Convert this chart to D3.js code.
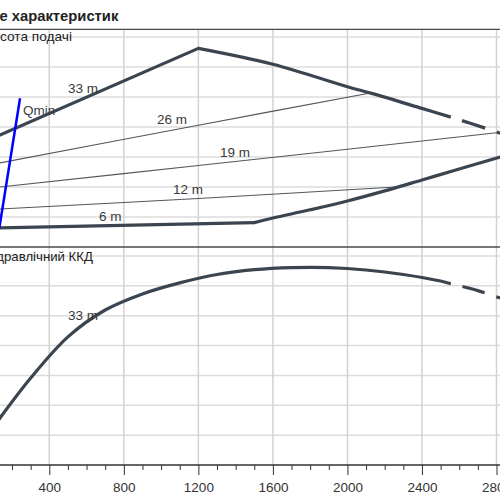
<!DOCTYPE html>
<html><head><meta charset="utf-8">
<script src="https://cdn.jsdelivr.net/npm/d3@7"></script>
<style>
body{margin:0;background:#fff;}
svg{display:block;font-family:"Liberation Sans",Arial,sans-serif;}
</style></head>
<body>
<div id="chart"></div>
<script>
// ---- data (flow Q in m³/h on x, head in m, efficiency in %) ----
const titleText = "е характеристик";
const headLabel = "Висота подачі";
const effLabel = "Гідравлічний ККД";
const xMajorTicks = [400, 800, 1200, 1600, 2000, 2400, 2800];
const xMinorTicks = [200, 300, 500, 600, 700, 900, 1000, 1100, 1300, 1400, 1500, 1700, 1800, 1900, 2100, 2200, 2300, 2500, 2600, 2700];
const headGrid = [5, 10, 15, 20, 25, 30, 35];
const effGrid = [10, 20, 30, 40, 50, 60, 70];

// upper envelope "33 m"
const env33Q = [100, 1200, 1600, 2000, 2130, 2400, 2560, 2740, 2820];
const env33H = [18.2, 33.1, 30.45, 26.7, 25.6, 23.1, 21.6, 19.8, 18.95];
// lower envelope "6 m" (flat part) + max-flow boundary (rising part)
const env6Q = [100, 1500, 1600, 1800, 2000, 2200, 2400, 2600, 2820];
const env6H = [3.18, 4.07, 4.83, 6.2, 7.67, 9.35, 11.17, 13.0, 15.0];
// thin curves
const c26Q = [100, 1200, 2130];
const c26H = [13.8, 20.3, 25.7];
const c19Q = [100, 1200, 2800];
const c19H = [9.88, 13.57, 19.05];
const c12Q = [100, 1200, 2282];
const c12H = [6.28, 8.08, 10.05];
// Qmin line
const qminQ = [243, 132];
const qminH = [24.8, 3.2];
// efficiency curve 33 m
const effQ = [100, 300, 500, 700, 900, 1100, 1300, 1500, 1700, 1900, 2100, 2300, 2500, 2700, 2820];
const effV = [12.7, 29.1, 42.9, 51.9, 57.3, 61.0, 63.8, 65.4, 66.1, 66.1, 65.3, 63.8, 61.6, 58.4, 55.9];
const dashFrom = 2555;

// labels
const headLabels = [
  {t:"33 m", q:500, h:25.67},
  {t:"26 m", q:978, h:20.5},
  {t:"19 m", q:1316, h:15.05},
  {t:"12 m", q:1064, h:8.83},
  {t:"6 m", q:667, h:4.33}
];
const qminLabel = {t:"Qmin", q:259, h:22.0};
const effLabelLine = {t:"33 m", q:500, v:48.6};

// ---- drawing ----
const W = 500, H = 500;
const svg = d3.select("#chart").append("svg").attr("width", W).attr("height", H);

const x = d3.scaleLinear().domain([400, 2800]).range([49.3, 496.5]);
const yH = d3.scaleLinear().domain([0, 36.28]).range([247, 29.3]);
const yE = d3.scaleLinear().domain([0, 73.1]).range([465, 246.7]);

const gridC = "#dcdcdc", vgridC = "#d2d2d2";
const thickC = "#3b4550", thinC = "#50575e";

// horizontal grids
svg.append("g").selectAll("line").data(headGrid).join("line")
  .attr("x1", 0).attr("x2", W).attr("y1", d => yH(d)).attr("y2", d => yH(d))
  .attr("stroke", gridC).attr("stroke-width", 1.5);
svg.append("g").selectAll("line").data(effGrid).join("line")
  .attr("x1", 0).attr("x2", W).attr("y1", d => yE(d)).attr("y2", d => yE(d))
  .attr("stroke", gridC).attr("stroke-width", 1.5);
// vertical grids
svg.append("g").selectAll("line").data(xMajorTicks).join("line")
  .attr("x1", d => x(d)).attr("x2", d => x(d)).attr("y1", yH(36.28)).attr("y2", yE(0))
  .attr("stroke", vgridC).attr("stroke-width", 1.5);

// border lines
[yH(36.28), yH(0)].forEach(yy => svg.append("line").attr("x1", 0).attr("x2", W)
  .attr("y1", yy).attr("y2", yy).attr("stroke", "#4a4a4a").attr("stroke-width", 1.3));

// x axis
const axisG = svg.append("g").attr("transform", `translate(0,${yE(0)})`);
axisG.append("line").attr("x1", 0).attr("x2", W).attr("stroke", "#333").attr("stroke-width", 1.3);
const minorAxis = d3.axisBottom(x).tickValues(xMinorTicks).tickSize(5).tickFormat("");
const majorAxis = d3.axisBottom(x).tickValues(xMajorTicks).tickSize(10).tickFormat(d3.format("d"));
const gMinor = axisG.append("g").call(minorAxis);
const gMajor = axisG.append("g").call(majorAxis);
[gMinor, gMajor].forEach(g => {
  g.select(".domain").remove();
  g.selectAll(".tick line").attr("stroke", "#333").attr("stroke-width", 1);
});
gMajor.selectAll(".tick text").attr("y", 17).attr("dy", "0.71em")
  .attr("font-size", 13.5).attr("fill", "#333").attr("font-family", '"Liberation Sans",Arial,sans-serif');

// line generators
const lineH = d3.line().x(d => x(d[0])).y(d => yH(d[1])).curve(d3.curveCatmullRom.alpha(0.5));
const lineHlin = d3.line().x(d => x(d[0])).y(d => yH(d[1]));
const lineE = d3.line().x(d => x(d[0])).y(d => yE(d[1])).curve(d3.curveCatmullRom.alpha(0.5));

function split(qs, vs) {
  const pts = qs.map((q, i) => [q, vs[i]]);
  const solid = pts.filter(p => p[0] <= dashFrom);
  const dashed = pts.filter(p => p[0] >= dashFrom);
  const i = qs.findIndex(q => q > dashFrom);
  if (i > 0 && qs[i-1] < dashFrom) {
    const t = (dashFrom - qs[i-1]) / (qs[i] - qs[i-1]);
    const j = [dashFrom, vs[i-1] + t * (vs[i] - vs[i-1])];
    solid.push(j); dashed.unshift(j);
  }
  return {solid, dashed};
}

// thin lines
[[c26Q, c26H], [c19Q, c19H], [c12Q, c12H]].forEach(([qs, hs]) => {
  svg.append("path").attr("d", lineH(qs.map((q, i) => [q, hs[i]])))
    .attr("fill", "none").attr("stroke", thinC).attr("stroke-width", 1.1);
});

// lower envelope: flat straight part, then curved boundary
const lowPts = env6Q.map((q, i) => [q, env6H[i]]);
svg.append("path").attr("d", lineHlin(lowPts.filter(p => p[0] <= 1500)))
  .attr("fill", "none").attr("stroke", thickC).attr("stroke-width", 3.2);
svg.append("path").attr("d", lineH(lowPts.filter(p => p[0] >= 1500)))
  .attr("fill", "none").attr("stroke", thickC).attr("stroke-width", 3.2).attr("stroke-linecap", "round");

// upper envelope: straight to the peak, then curved
const up = split(env33Q, env33H);
const upLeft = up.solid.filter(p => p[0] <= 1200);
const upRight = up.solid.filter(p => p[0] >= 1200);
svg.append("path").attr("d", lineHlin(upLeft)).attr("fill", "none")
  .attr("stroke", thickC).attr("stroke-width", 3.2).attr("stroke-linecap", "round");
svg.append("path").attr("d", lineH(upRight)).attr("fill", "none")
  .attr("stroke", thickC).attr("stroke-width", 3.2);
svg.append("path").attr("d", lineH(up.dashed)).attr("fill", "none")
  .attr("stroke", thickC).attr("stroke-width", 3.2)
  .attr("stroke-dasharray", "24 12").attr("stroke-dashoffset", 24);

// Qmin
svg.append("path").attr("d", lineHlin(qminQ.map((q, i) => [q, qminH[i]])))
  .attr("fill", "none").attr("stroke", "#0000ff").attr("stroke-width", 2.5);

// efficiency
const ef = split(effQ, effV);
svg.append("path").attr("d", lineE(ef.solid)).attr("fill", "none")
  .attr("stroke", thickC).attr("stroke-width", 3.2);
svg.append("path").attr("d", lineE(ef.dashed)).attr("fill", "none")
  .attr("stroke", thickC).attr("stroke-width", 3.2)
  .attr("stroke-dasharray", "23 12").attr("stroke-dashoffset", 23);

// labels on curves
svg.append("g").selectAll("text").data(headLabels).join("text")
  .attr("x", d => x(d.q)).attr("y", d => yH(d.h)).text(d => d.t)
  .attr("font-size", 13.5).attr("fill", "#3a3a3a");
svg.append("text").attr("x", x(qminLabel.q)).attr("y", yH(qminLabel.h)).text(qminLabel.t)
  .attr("font-size", 13.5).attr("fill", "#3a3f46");
svg.append("text").attr("x", x(effLabelLine.q)).attr("y", yE(effLabelLine.v)).text(effLabelLine.t)
  .attr("font-size", 13.5).attr("fill", "#3a3a3a");

// helpers to measure text
function measure(str, size, weight) {
  const p = svg.append("text").attr("font-size", size).attr("font-weight", weight || "normal").text(str);
  const w = p.node().getComputedTextLength();
  p.remove();
  return w;
}
// panel labels (left part is cut off as in the reference)
function cutLabel(full, prefixLen, visibleX, visibleEnd, yy) {
  const vis = full.slice(prefixLen);
  const size = Math.min(14, 13.5 * (visibleEnd - visibleX) / measure(vis, 13.5));
  const w = measure(full.slice(0, prefixLen), size);
  svg.append("text").attr("x", visibleX - w).attr("y", yy).attr("font-size", size)
    .attr("fill", "#222").text(full);
}
cutLabel(headLabel, 2, 0, 72, 41);
cutLabel(effLabel, 3, 4, 93, 261);

// title
const tSize = Math.min(16, 14 * 119 / measure(titleText, 14, "bold"));
svg.append("text").attr("x", -0.5).attr("y", 21).attr("font-size", tSize)
  .attr("font-weight", "bold").attr("fill", "#222").text(titleText);
</script>
</body></html>
